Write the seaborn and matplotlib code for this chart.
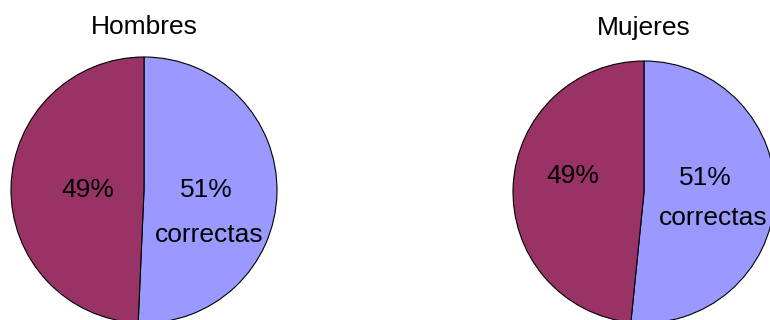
import matplotlib
matplotlib.use('Agg')
import matplotlib.pyplot as plt
import seaborn as sns

# ── Data ──────────────────────────────────────────────────────────────────────
groups         = ['Hombres', 'Mujeres']
pct_correct    = [50.7, 51.6]      # share drawn
pct_incorrect  = [49.3, 48.4]
pct_text_corr  = ['51%', '51%']
pct_text_inc   = ['49%', '49%']
label_correct  = 'correctas'

COLORS = ['#9999FF', '#993366']    # correct, incorrect

sns.set_theme(style='white')
plt.rcParams['font.family'] = ['Liberation Sans', 'DejaVu Sans']

W, H = 770, 320
fig = plt.figure(figsize=(W / 100, H / 100), dpi=100)

# pie centre (px from left, px from top), radius in px, title pad in pt
layout = [
    dict(cx=144, cy=190, r=133, pad=16.5,
         inc=(-0.42, 0.0), corr=(0.47, 0.0), lab=(0.49, -0.34)),
    dict(cx=644, cy=192, r=131, pad=19.0,
         inc=(-0.54, 0.12), corr=(0.47, 0.11), lab=(0.53, -0.20)),
]

for i, g in enumerate(groups):
    L = layout[i]
    left = (L['cx'] - L['r']) / W
    bottom = (H - L['cy'] - L['r']) / H
    ax = fig.add_axes([left, bottom, 2 * L['r'] / W, 2 * L['r'] / H])
    ax.pie([pct_correct[i], pct_incorrect[i]],
           colors=COLORS, startangle=90, counterclock=False, radius=1,
           wedgeprops=dict(edgecolor='black', linewidth=0.8))
    ax.set_xlim(-1, 1)
    ax.set_ylim(-1, 1)
    ax.set_aspect('equal')
    ax.axis('off')
    ax.set_title(g, fontsize=19, pad=L['pad'], color='black')

    ax.text(*L['inc'], pct_text_inc[i], ha='center', va='center',
            fontsize=19, color='black')
    ax.text(*L['corr'], pct_text_corr[i], ha='center', va='center',
            fontsize=19, color='black')
    ax.text(*L['lab'], label_correct, ha='center', va='center',
            fontsize=19, color='black')

fig.savefig('out.png', dpi=100, facecolor='white')
plt.close(fig)
